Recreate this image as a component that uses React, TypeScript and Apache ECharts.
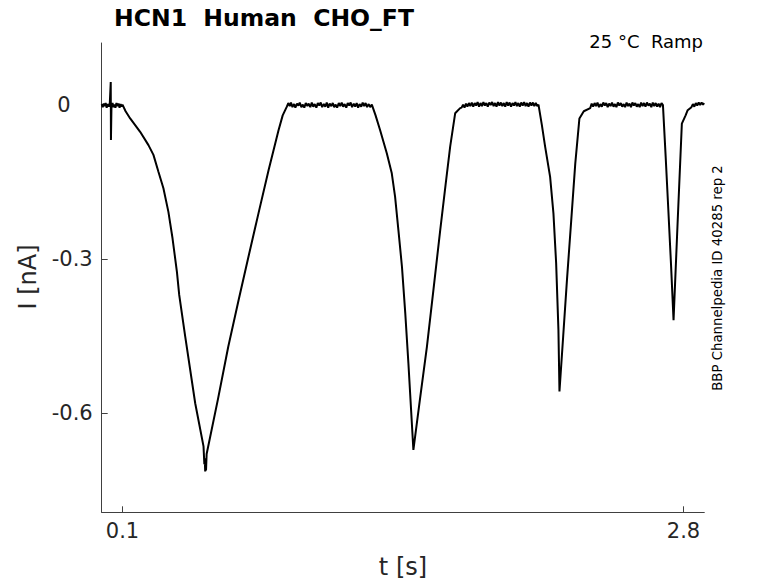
import React, { useEffect, useRef } from "react";
import * as echarts from "echarts";

// time [s], current [nA]
const preBaseline: [number, number][] = [
  [0.0, 0.002], [0.005, -0.004], [0.01, 0.003], [0.014, -0.002], [0.019, 0.004], [0.024, -0.005],
  [0.029, 0.002], [0.034, -0.003], [0.039, 0.004], [0.0435, 0.045], [0.0445, -0.068], [0.047, -0.002],
  [0.052, 0.004], [0.057, -0.004], [0.061, 0.001], [0.066, -0.005], [0.071, 0.004], [0.076, -0.002],
  [0.081, 0.003], [0.086, -0.005], [0.091, 0.002], [0.096, -0.003], [0.1, 0.001],
];
const ramp1: [number, number][] = [
  [0.115, -0.012], [0.137, -0.026], [0.185, -0.052], [0.225, -0.078], [0.249, -0.097],
  [0.273, -0.13], [0.297, -0.162], [0.321, -0.208], [0.341, -0.26], [0.362, -0.325],
  [0.373, -0.37], [0.402, -0.451], [0.45, -0.581], [0.49, -0.665], [0.494, -0.7],
  [0.496, -0.688], [0.498, -0.714], [0.5, -0.694], [0.502, -0.712], [0.505, -0.68],
  [0.56, -0.572], [0.609, -0.471], [0.66, -0.378], [0.706, -0.296], [0.755, -0.21],
  [0.803, -0.127], [0.851, -0.049], [0.871, -0.02], [0.891, -0.003],
];
const baseline1: [number, number][] = [
  [0.898, 0.004], [0.905, -0.002], [0.911, 0.005], [0.918, -0.004], [0.926, 0.002], [0.932, -0.005],
  [0.94, 0.003], [0.947, -0.001], [0.953, 0.005], [0.961, -0.004], [0.968, 0.001], [0.975, -0.005],
  [0.982, 0.004], [0.99, -0.002], [0.996, 0.003], [1.004, -0.004], [1.011, 0.005], [1.018, -0.003],
  [1.025, 0.002], [1.033, -0.005], [1.04, 0.004], [1.047, -0.001], [1.054, 0.005], [1.061, -0.004],
  [1.069, 0.002], [1.076, -0.003], [1.083, 0.005], [1.09, -0.005], [1.097, 0.003], [1.105, -0.002],
  [1.112, 0.004], [1.119, -0.004], [1.126, 0.001], [1.133, -0.005], [1.141, 0.004], [1.148, -0.002],
  [1.155, 0.005], [1.162, -0.003], [1.169, 0.002], [1.177, -0.005], [1.184, 0.004], [1.191, -0.001],
  [1.198, 0.005], [1.205, -0.004], [1.213, 0.003], [1.22, -0.003], [1.227, 0.004], [1.234, -0.005],
  [1.241, 0.002], [1.249, -0.003], [1.256, 0.005], [1.263, -0.002], [1.27, 0.004], [1.277, -0.004],
  [1.285, 0.002], [1.292, -0.004], [1.3, 0.001],
];
const ramp2: [number, number][] = [
  [1.318, -0.02], [1.34, -0.049], [1.372, -0.094], [1.396, -0.133], [1.412, -0.179],
  [1.428, -0.244], [1.445, -0.315], [1.461, -0.406], [1.476, -0.503], [1.5, -0.672],
  [1.532, -0.572], [1.565, -0.471], [1.597, -0.358], [1.629, -0.244], [1.655, -0.155],
  [1.677, -0.081], [1.701, -0.016], [1.725, -0.006],
];
const baseline2: [number, number][] = [
  [1.732, -0.005], [1.739, 0.001], [1.746, -0.005], [1.753, 0.003], [1.76, -0.003], [1.767, 0.004],
  [1.774, -0.002], [1.781, 0.005], [1.788, -0.003], [1.795, 0.004], [1.802, -0.001], [1.809, 0.006],
  [1.816, -0.003], [1.823, 0.004], [1.83, -0.002], [1.837, 0.006], [1.844, -0.001], [1.851, 0.004],
  [1.858, -0.003], [1.865, 0.005], [1.872, 0.0], [1.879, 0.006], [1.886, -0.002], [1.893, 0.004],
  [1.9, -0.003], [1.907, 0.006], [1.914, -0.001], [1.921, 0.005], [1.928, -0.002], [1.935, 0.004],
  [1.942, -0.003], [1.949, 0.006], [1.956, -0.001], [1.963, 0.005], [1.97, -0.003], [1.977, 0.004],
  [1.984, -0.001], [1.991, 0.006], [1.998, -0.002], [2.005, 0.004], [2.012, -0.003], [2.019, 0.005],
  [2.026, -0.001], [2.033, 0.006], [2.04, -0.002], [2.047, 0.004], [2.054, -0.003], [2.061, 0.005],
  [2.068, -0.001], [2.075, 0.005], [2.082, -0.002], [2.089, 0.004], [2.096, -0.002], [2.102, 0.001],
];
const ramp3: [number, number][] = [
  [2.118, -0.038], [2.134, -0.081], [2.158, -0.14], [2.174, -0.211], [2.187, -0.308],
  [2.198, -0.438], [2.203, -0.558], [2.221, -0.45], [2.239, -0.341], [2.259, -0.228],
  [2.279, -0.114], [2.299, -0.026], [2.32, -0.012], [2.351, -0.006],
];
const baseline3: [number, number][] = [
  [2.358, 0.003], [2.365, -0.003], [2.372, 0.004], [2.379, -0.002], [2.386, 0.005], [2.393, -0.004],
  [2.4, 0.002], [2.407, -0.003], [2.414, 0.005], [2.421, -0.001], [2.428, 0.004], [2.435, -0.004],
  [2.442, 0.003], [2.449, -0.002], [2.456, 0.005], [2.463, -0.003], [2.47, 0.002], [2.477, -0.004],
  [2.484, 0.005], [2.491, -0.001], [2.498, 0.004], [2.505, -0.003], [2.512, 0.002], [2.519, -0.004],
  [2.526, 0.005], [2.533, -0.002], [2.54, 0.003], [2.547, -0.004], [2.554, 0.005], [2.561, -0.001],
  [2.568, 0.004], [2.575, -0.003], [2.582, 0.002], [2.589, -0.004], [2.596, 0.005], [2.603, -0.002],
  [2.61, 0.004], [2.617, -0.003], [2.624, 0.005], [2.631, -0.001], [2.638, 0.003], [2.645, -0.004],
  [2.652, 0.005], [2.659, -0.002], [2.666, 0.004], [2.673, -0.003], [2.68, 0.003], [2.687, -0.004],
  [2.694, 0.004], [2.701, 0.0],
];
const ramp4: [number, number][] = [
  [2.714, -0.1], [2.727, -0.205], [2.74, -0.312], [2.752, -0.419], [2.772, -0.225],
  [2.792, -0.036], [2.81, -0.02], [2.82, -0.01], [2.832, -0.006],
];
const baseline4: [number, number][] = [
  [2.838, -0.004], [2.845, 0.002], [2.852, -0.003], [2.859, 0.004], [2.866, -0.001], [2.873, 0.005],
  [2.88, 0.0], [2.887, 0.005], [2.894, 0.001], [2.899, 0.004],
];

const xTicks = [0.1, 2.8];
const yTicks = [-0.6, -0.3, 0];
const xRange = [0, 2.9];
const yRange = [-0.7935, 0.121];

const titleText = "HCN1  Human  CHO_FT";
const conditionText = "25 °C  Ramp";
const sourceText = "BBP Channelpedia ID 40285 rep 2";
const xName = "t [s]";
const yName = "I [nA]";

const trace = [
  ...preBaseline, ...ramp1, ...baseline1, ...ramp2, ...baseline2,
  ...ramp3, ...baseline3, ...ramp4, ...baseline4,
];

const FONT = "'DejaVu Sans', 'Liberation Sans', sans-serif";

export default function App() {
  const ref = useRef<HTMLDivElement>(null);
  useEffect(() => {
    document.body.style.margin = "0";
    const chart = echarts.init(ref.current!, null, { renderer: "svg" });
    chart.setOption({
      animation: false,
      backgroundColor: "#ffffff",
      grid: {
        left: 101.7,
        right: 73.7,
        top: 43,
        bottom: 70.7,
        containLabel: false,
        outerBoundsMode: "none",
      },
      xAxis: {
        type: "value",
        min: xRange[0],
        max: xRange[1],
        axisLine: { show: true, onZero: false, lineStyle: { color: "#404040", width: 1 } },
        axisTick: { show: true, inside: true, length: 6, customValues: xTicks, lineStyle: { color: "#404040" } },
        axisLabel: {
          customValues: xTicks,
          formatter: (v: number) => String(v),
          fontFamily: FONT,
          fontSize: 21,
          color: "#262626",
          margin: 8,
        },
        splitLine: { show: false },
      },
      yAxis: {
        type: "value",
        min: yRange[0],
        max: yRange[1],
        axisLine: { show: true, onZero: false, lineStyle: { color: "#404040", width: 1 } },
        axisTick: { show: true, inside: true, length: 6, customValues: yTicks, lineStyle: { color: "#404040" } },
        axisLabel: {
          customValues: yTicks,
          formatter: (v: number) => (Math.abs(v) < 1e-9 ? "{z|0}" : String(v)),
          fontFamily: FONT,
          fontSize: 21,
          color: "#262626",
          margin: 9,
          rich: {
            z: { fontFamily: FONT, fontSize: 21, color: "#262626", padding: [0, 22, 0, 0] },
          },
        },
        splitLine: { show: false },
      },
      series: [
        {
          type: "line",
          data: trace,
          showSymbol: false,
          symbol: "none",
          lineStyle: { color: "#000000", width: 2 },
          emphasis: { disabled: true },
          clip: true,
        },
      ],
      graphic: [
        {
          type: "text",
          x: 264,
          y: 18,
          style: { text: titleText, font: `bold 23.5px ${FONT}`, fill: "#000000", align: "center", verticalAlign: "middle" },
        },
        {
          type: "text",
          x: 703,
          y: 41,
          style: { text: conditionText, font: `18px ${FONT}`, fill: "#000000", align: "right", verticalAlign: "middle" },
        },
        {
          type: "text",
          x: 28,
          y: 277,
          rotation: Math.PI / 2,
          style: { text: yName, font: `24px ${FONT}`, fill: "#262626", align: "center", verticalAlign: "middle" },
        },
        {
          type: "text",
          x: 403,
          y: 567,
          style: { text: xName, font: `24px ${FONT}`, fill: "#262626", align: "center", verticalAlign: "middle" },
        },
        {
          type: "text",
          x: 717,
          y: 278,
          rotation: Math.PI / 2,
          style: { text: sourceText, font: `13.3px ${FONT}`, fill: "#000000", align: "center", verticalAlign: "middle" },
        },
      ],
    });
    return () => chart.dispose();
  }, []);
  return <div ref={ref} style={{ width: 778, height: 583 }} />;
}
